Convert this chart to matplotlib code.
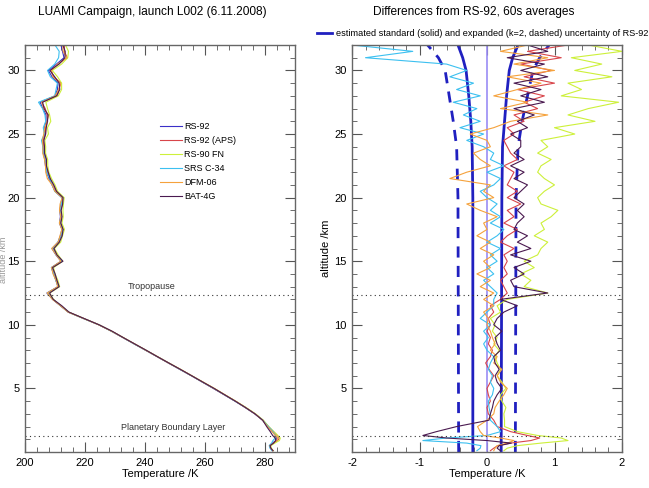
import matplotlib
matplotlib.use('Agg')
import matplotlib.pyplot as plt
import numpy as np

plt.rcParams['font.family'] = ['Liberation Sans', 'DejaVu Sans']

# altitude grid (km)
alt = [0.1, 0.3, 0.5, 0.7, 0.9, 1.1, 1.3, 1.6, 2.0, 2.5,
       3.0, 3.5, 4.0, 4.5, 5.0, 5.5, 6.0, 6.5, 7.0, 7.5,
       8.0, 8.5, 9.0, 9.5, 10.0, 10.5, 11.0, 11.5, 12.0, 12.5,
       13.0, 13.5, 14.0, 14.5, 15.0, 15.5, 16.0, 16.5, 17.0, 17.5,
       18.0, 18.5, 19.0, 19.5, 20.0, 20.5, 21.0, 21.5, 22.0, 22.5,
       23.0, 23.5, 24.0, 24.5, 25.0, 25.5, 26.0, 26.5, 27.0, 27.5,
       28.0, 28.5, 29.0, 29.5, 30.0, 30.5, 31.0, 31.5, 32.0]

# RS-92 temperature (K)
t_rs92 = [282.5, 281.8, 281.5, 282.5, 283.6, 284.0, 283.5, 282.5, 281.0, 279.2,
          276.6, 273.4, 270.0, 266.4, 262.8, 259.1, 255.4, 251.6, 247.8, 244.0,
          240.2, 236.4, 232.6, 228.8, 224.6, 219.5, 214.4, 211.8, 209.2, 207.3,
          211.0, 210.3, 209.5, 208.8, 212.0, 210.3, 209.0, 211.0, 211.8, 212.3,
          211.5, 211.8, 211.6, 212.0, 212.3, 210.0, 209.0, 208.0, 207.2, 206.8,
          206.6, 206.1, 206.0, 205.8, 206.5, 206.5, 207.0, 207.0, 206.0, 205.0,
          210.0, 210.8, 211.0, 209.0, 207.8, 210.5, 213.0, 212.5, 212.0]

# differences from RS-92 (K)
d_aps = [0.05, 0.10, 0.16, 0.35, 0.65, 0.78, 0.60, 0.35, 0.15, 0.10,
         0.02, 0.00, 0.05, 0.02, 0.00, 0.05, 0.10, 0.03, -0.02, 0.05,
         0.08, 0.02, 0.05, 0.00, 0.05, 0.02, 0.10, 0.05, 0.20, 0.30,
         0.25, 0.20, 0.30, 0.25, 0.30, 0.25, 0.40, 0.20, 0.30, 0.45,
         0.25, 0.40, 0.30, 0.50, 0.30, 0.45, 0.30, 0.35, 0.40, 0.25,
         0.45, 0.35, 0.30, 0.25, 0.40, 0.30, 0.55, 0.40, 0.75, 0.55,
         0.85, 0.45, 1.00, 0.55, 0.95, 0.50, 1.10, 0.60, 1.20]
d_fn = [0.25, 0.30, 0.45, 0.80, 1.20, 1.10, 0.75, 0.45, 0.26, 0.26,
        0.25, 0.28, 0.22, 0.20, 0.28, 0.22, 0.15, 0.20, 0.15, 0.12,
        0.18, 0.10, 0.15, 0.08, 0.12, 0.05, 0.20, 0.15, 0.30, 0.90,
        0.55, 0.65, 0.50, 0.70, 0.55, 0.75, 0.80, 0.90, 0.70, 0.85,
        0.80, 0.95, 1.05, 0.80, 0.75, 0.85, 1.00, 0.85, 0.75, 0.80,
        0.95, 0.75, 0.90, 0.80, 1.30, 1.00, 1.60, 1.20, 1.50, 1.95,
        1.10, 1.40, 1.20, 1.85, 1.30, 1.70, 1.25, 2.00, 1.50]
d_srs = [-0.15, -0.10, -0.09, -0.30, -0.95, -0.60, 0.00, 0.20, 0.15, 0.05,
         0.05, 0.03, 0.02, 0.08, 0.10, 0.05, 0.08, 0.02, 0.05, 0.10,
         0.00, -0.05, 0.02, -0.05, 0.05, -0.10, 0.00, 0.10, 0.10, 0.15,
         0.05, -0.05, 0.10, 0.00, 0.15, 0.05, 0.20, 0.00, 0.15, 0.25,
         0.05, 0.20, 0.05, 0.15, 0.00, -0.10, 0.10, 0.20, 0.00, 0.25,
         0.05, 0.10, -0.05, -0.30, -0.05, -0.40, -0.10, -0.35, -0.15, -0.50,
         -0.10, -0.45, -0.20, -0.55, -0.30, -0.60, -1.80, -1.10, -2.00]
d_dfm = [0.10, 0.12, 0.15, 0.30, 0.40, 0.20, -0.05, -0.10, -0.14, 0.00,
         0.10, 0.12, 0.18, 0.25, 0.30, 0.20, 0.15, 0.22, 0.10, 0.15,
         0.05, 0.12, 0.08, 0.05, 0.00, 0.02, -0.05, 0.10, -0.05, 0.10,
         -0.10, 0.05, -0.15, 0.05, -0.05, 0.10, -0.10, 0.05, -0.15, 0.00,
         -0.05, 0.15, -0.10, -0.30, 0.10, -0.05, 0.05, -0.55, -0.30, 0.05,
         -0.10, -0.20, 0.05, 0.00, -0.25, 0.10, 0.35, 0.90, 0.20, 0.60,
         0.10, 0.45, 0.80, 0.30, 1.00, 0.40, 0.90, 0.20, 0.60]
d_bat = [0.20, 0.15, 0.18, 0.36, 0.00, -0.60, -0.95, -0.75, -0.45, 0.03,
         0.05, 0.08, 0.10, 0.15, 0.22, 0.15, 0.12, 0.18, 0.12, 0.10,
         0.20, 0.15, 0.12, 0.22, 0.10, 0.15, 0.25, 0.45, 0.20, 0.90,
         0.40, 0.35, 0.55, 0.40, 0.65, 0.35, 0.65, 0.45, 0.60, 0.40,
         0.45, 0.55, 0.45, 0.55, 0.40, 0.50, 0.60, 0.40, 0.55, 0.35,
         0.55, 0.40, 0.50, 0.50, 0.35, 0.60, 0.45, 0.70, 0.40, 0.85,
         0.50, 0.80, 0.40, 0.90, 0.50, 0.85, 0.30, 0.90, 0.60]

# RS-92 uncertainty (K)
unc_alt = [0, 20, 24, 26, 28, 30, 31, 32]
std_lo = [-0.21, -0.21, -0.22, -0.24, -0.27, -0.31, -0.36, -0.43]
std_hi = [0.21, 0.22, 0.23, 0.26, 0.29, 0.33, 0.38, 0.46]
exp_lo = [-0.42, -0.43, -0.45, -0.50, -0.56, -0.62, -0.72, -0.88]
exp_hi = [0.42, 0.43, 0.46, 0.52, 0.60, 0.68, 0.78, 0.92]

names = ['RS-92', 'RS-92 (APS)', 'RS-90 FN', 'SRS C-34', 'DFM-06', 'BAT-4G']
colors = ['#3a2fc8', '#d8454a', '#cdf03a', '#3cc0f0', '#f5a23c', '#4a1a50']
diffs = [np.zeros(len(alt)), d_aps, d_fn, d_srs, d_dfm, d_bat]

tropopause = 12.35
pbl = 1.25

fig = plt.figure(figsize=(6.49, 4.88), dpi=100)
ax1 = fig.add_axes([25/649, 36/488, 270/649, 407/488])
ax2 = fig.add_axes([352/649, 36/488, 270/649, 407/488])

a = np.array(alt)
t = np.array(t_rs92)
for i in range(6):
    ax1.plot(t + np.array(diffs[i]), a, color=colors[i], lw=0.8, label=names[i])
ax1.axhline(tropopause, color='#333333', lw=0.8, ls=(0, (1, 3)))
ax1.axhline(pbl, color='#333333', lw=0.8, ls=(0, (1, 3)))
ax1.text(242.3, 13.05, 'Tropopause', fontsize=6.5, ha='center', va='center', color='#333333')
ax1.text(249.3, 1.95, 'Planetary Boundary Layer', fontsize=6.5, ha='center', va='center', color='#333333')
ax1.set_xlim(200, 290)
ax1.set_ylim(0, 32)
ax1.set_xticks([200, 220, 240, 260, 280])
ax1.set_xticks(np.arange(200, 291, 4), minor=True)
ax1.set_yticks([5, 10, 15, 20, 25, 30])
ax1.set_yticks(np.arange(0, 33, 1), minor=True)
ax1.set_xlabel('Temperature /K', fontsize=8, labelpad=1)
leg = ax1.legend(loc='upper left', bbox_to_anchor=(0.47, 0.83), frameon=False,
                 fontsize=6.5, handlelength=2.4, handletextpad=0.3, labelspacing=0.55)

# right panel
ax2.plot(std_lo, unc_alt, color='#2020c0', lw=2)
ax2.plot(std_hi, unc_alt, color='#2020c0', lw=2)
ax2.plot(exp_lo, unc_alt, color='#2020c0', lw=2, ls=(0, (4, 3)))
ax2.plot(exp_hi, unc_alt, color='#2020c0', lw=2, ls=(0, (4, 3)))
ax2.plot(diffs[0], a, color='#9a8cf5', lw=1.2)
for i in range(1, 6):
    ax2.plot(diffs[i], a, color=colors[i], lw=0.8)
ax2.axhline(tropopause, color='#333333', lw=0.8, ls=(0, (1, 3)))
ax2.axhline(pbl, color='#333333', lw=0.8, ls=(0, (1, 3)))
ax2.set_xlim(-2, 2)
ax2.set_ylim(0, 32)
ax2.set_xticks([-2, -1, 0, 1, 2])
ax2.set_xticklabels(['-2', '-1', '0', '1', '2'])
ax2.set_xticks(np.arange(-2, 2.01, 0.2), minor=True)
ax2.set_yticks([5, 10, 15, 20, 25, 30])
ax2.set_yticks(np.arange(0, 33, 1), minor=True)
ax2.set_xlabel('Temperature /K', fontsize=8, labelpad=1)
ax2.set_ylabel('altitude /km', fontsize=8, labelpad=2)

for ax in (ax1, ax2):
    ax.tick_params(which='both', direction='in', top=True, right=True,
                   labelsize=8, color='#555555', pad=4)
    ax.tick_params(which='major', length=7)
    ax.tick_params(which='minor', length=3.5)
    for s in ax.spines.values():
        s.set_color('#666666')
        s.set_linewidth(1.0)

fig.text(152/649, 1 - 12/488, 'LUAMI Campaign, launch L002 (6.11.2008)', fontsize=8.6, ha='center', va='center')
fig.text(474/649, 1 - 12/488, 'Differences from RS-92, 60s averages', fontsize=8.6, ha='center', va='center')
fig.add_artist(plt.Line2D([317/649, 332/649], [1 - 33/488, 1 - 33/488], color='#2020c0', lw=2))
fig.text(336/649, 1 - 33/488, 'estimated standard (solid) and expanded (k=2, dashed) uncertainty of RS-92',
         fontsize=6.6, ha='left', va='center')
fig.text(4/649, 228/488, 'altitude /km', fontsize=6.5, rotation=90, ha='center', va='center', color='#999999')

fig.savefig('out.png', dpi=100)
